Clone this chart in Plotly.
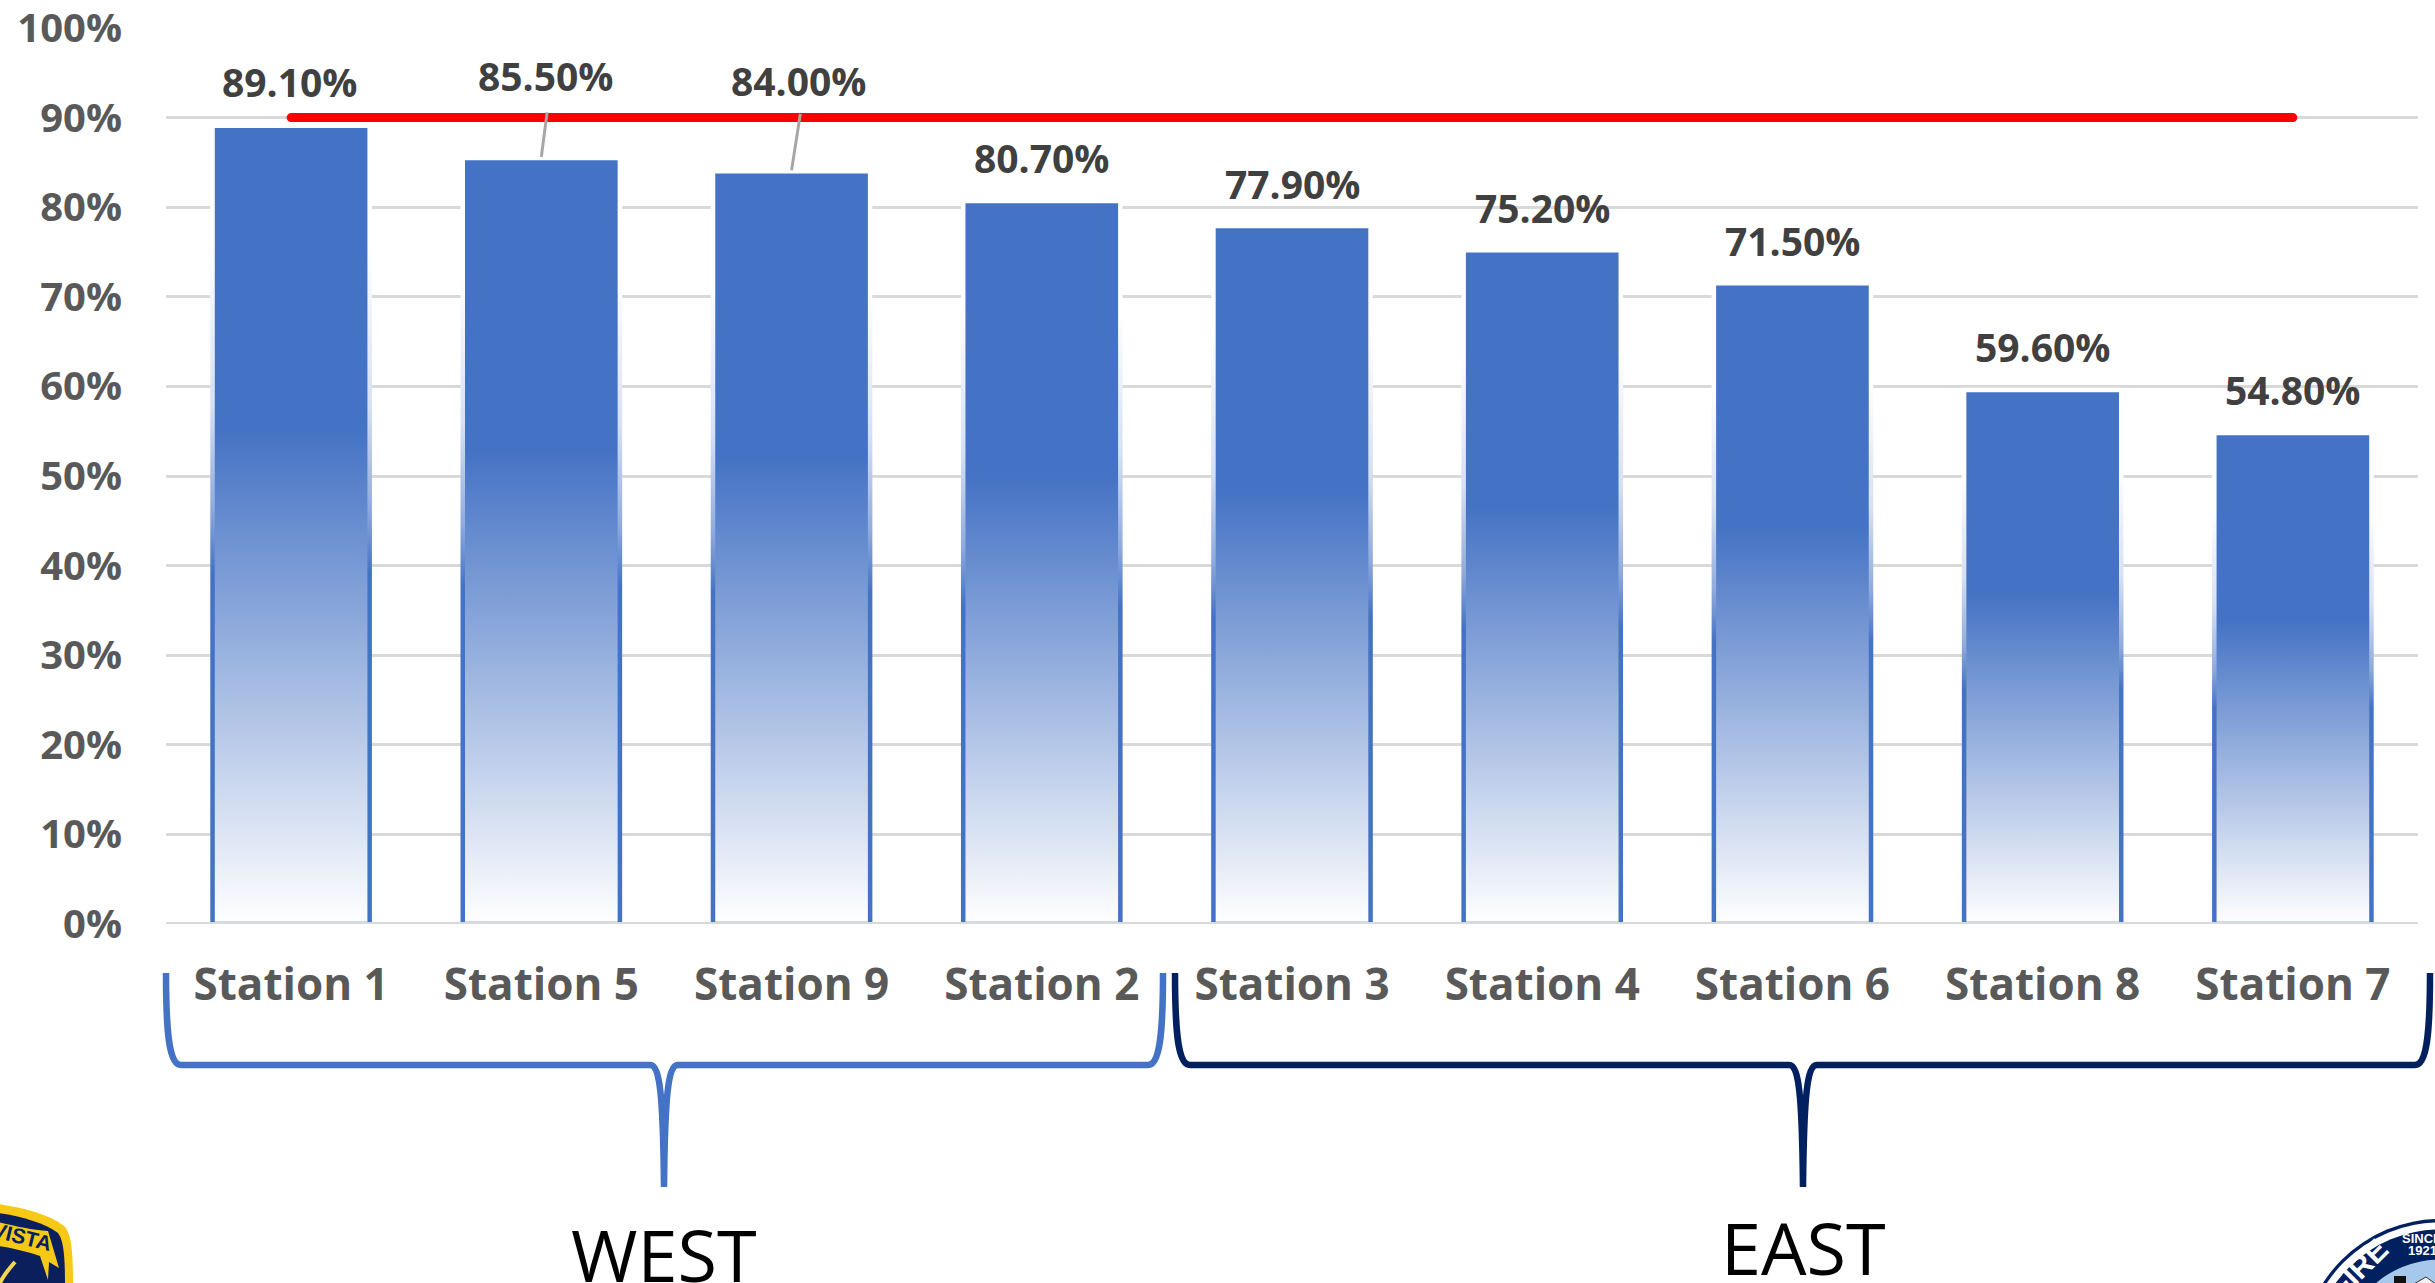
import plotly.graph_objects as go

stations = ["Station 1", "Station 5", "Station 9", "Station 2", "Station 3",
            "Station 4", "Station 6", "Station 8", "Station 7"]
values = [89.1, 85.5, 84.0, 80.7, 77.9, 75.2, 71.5, 59.6, 54.8]
value_labels = ["89.10%", "85.50%", "84.00%", "80.70%", "77.90%",
                "75.20%", "71.50%", "59.60%", "54.80%"]
target = [90] * len(stations)
y_ticks = [0, 10, 20, 30, 40, 50, 60, 70, 80, 90, 100]
y_tick_labels = [f"{v}%" for v in y_ticks]
groups = ["WEST", "EAST"]

W, H = 2435, 1283
L, R, T, B = 166, 17, 28, 359
BLUE = "#4472C4"
NAVY = "#002060"
FONT = "Open Sans"


def px(x):
    return (x - L) / (W - L - R)


def py(y):
    return (H - B - y) / (H - T - B)


def pp(x, y):
    return f"{px(x):.5f},{py(y):.5f}"


def path_shape(d, **kw):
    return dict(type="path", xref="paper", yref="paper", path=d, layer="above", **kw)


def brace(x0, xc, x1, top, mid, tip, colour):
    d = (f"M{pp(x0, top)} C{pp(x0, top + 60)} {pp(x0 + 3, mid)} {pp(x0 + 15, mid)} "
         f"L{pp(xc - 14, mid)} C{pp(xc - 4, mid)} {pp(xc - 1, mid + 30)} {pp(xc, tip)} "
         f"C{pp(xc + 1, mid + 30)} {pp(xc + 4, mid)} {pp(xc + 14, mid)} "
         f"L{pp(x1 - 15, mid)} C{pp(x1 - 3, mid)} {pp(x1, top + 60)} {pp(x1, top)}")
    return path_shape(d, line=dict(color=colour, width=6.5))


def circle(cx, cy, r, colour):
    return dict(type="circle", xref="paper", yref="paper", layer="above",
                x0=px(cx - r), x1=px(cx + r), y0=py(cy + r), y1=py(cy - r),
                fillcolor=colour, line=dict(width=0))


def note(x, y, text, size, colour, family=FONT, angle=0):
    return dict(xref="paper", yref="paper", x=px(x), y=py(y), text=text, showarrow=False,
                xanchor="center", yanchor="middle", textangle=angle,
                font=dict(family=family, size=size, color=colour))


fig = go.Figure()
fig.add_bar(x=stations, y=values, width=0.628,
            marker=dict(color=BLUE, line=dict(color=BLUE, width=4.5)),
            hoverinfo="x+y", showlegend=False)
fig.add_scatter(x=stations, y=target, mode="lines",
                line=dict(color="#FF0000", width=9), hoverinfo="y", showlegend=False)

label_offsets = {
    "Station 1": (-2, 44), "Station 5": (4, 82), "Station 9": (7, 91),
    "Station 2": (0, 43), "Station 3": (0, 43), "Station 4": (0, 43),
    "Station 6": (0, 43), "Station 8": (0, 43), "Station 7": (0, 43),
}
leaders = {"Station 5": (6, -46), "Station 9": (9, -58)}

annotations = []
for s, v, t in zip(stations, values, value_labels):
    dx, dy = label_offsets[s]
    annotations.append(dict(x=s, y=v, text=t, showarrow=False, xshift=dx, yshift=dy,
                            font=dict(family=FONT, size=39, color="#404040", weight=700)))
    if s in leaders:
        ax, ay = leaders[s]
        annotations.append(dict(x=s, y=v, text="", showarrow=True, arrowhead=0, arrowwidth=3,
                                arrowcolor="#A6A6A6", ax=ax, ay=ay, yshift=1))

annotations += [
    note(664, 1254, groups[0], 72, "#000000"),
    note(1803, 1247, groups[1], 72, "#000000"),
    # crest fragments at the bottom corners
    note(22, 1236, "<b>VISTA</b>", 21, NAVY, "Liberation Sans", 14),
    note(2358, 1268, "<b>FIRE</b>", 30, "#FFFFFF", "Liberation Sans", -45),
    note(2422, 1238, "<b>SINCE</b>", 13, "#FFFFFF", "Liberation Sans"),
    note(2422, 1250, "<b>1921</b>", 13, "#FFFFFF", "Liberation Sans"),
]

shapes = [
    dict(type="line", xref="paper", yref="y", x0=0, x1=1, y0=0, y1=0, layer="above",
         line=dict(color="#D9D9D9", width=4)),
    brace(166, 664, 1163, 973, 1065, 1187, BLUE),
    brace(1175, 1803, 2430, 973, 1065, 1187, NAVY),
    # left crest
    path_shape(f"M{pp(-2, 1204)} C{pp(25, 1208)} {pp(50, 1215)} {pp(64, 1226)} "
               f"C{pp(71, 1233)} {pp(73, 1248)} {pp(73, 1285)} L{pp(-2, 1285)} Z",
               fillcolor="#F5C916", line=dict(width=0)),
    path_shape(f"M{pp(-2, 1213)} C{pp(20, 1216)} {pp(45, 1223)} {pp(58, 1233)} "
               f"C{pp(63, 1240)} {pp(65, 1252)} {pp(65, 1285)} L{pp(-2, 1285)} Z",
               fillcolor="#0B1F5C", line=dict(width=0)),
    path_shape(f"M{pp(-2, 1222)} C{pp(15, 1226)} {pp(32, 1230)} {pp(48, 1231)} L{pp(59, 1268)} "
               f"L{pp(49, 1262)} L{pp(48, 1280)} L{pp(40, 1256)} C{pp(28, 1252)} {pp(12, 1248)} {pp(-2, 1246)} Z",
               fillcolor="#F5C916", line=dict(width=0)),
    path_shape(f"M{pp(0, 1283)} C{pp(4, 1274)} {pp(10, 1268)} {pp(15, 1262)}",
               line=dict(color="#F5D94A", width=4)),
    # right seal
    circle(2440, 1358, 139, NAVY),
    circle(2440, 1358, 135.7, "#FFFFFF"),
    circle(2440, 1358, 128.5, NAVY),
    circle(2440, 1358, 98.5, "#A6C8EA"),
    path_shape(f"M{pp(2394, 1285)} L{pp(2394, 1276)} L{pp(2406, 1276)} L{pp(2406, 1285)} Z",
               fillcolor="#111111", line=dict(width=0)),
    path_shape(f"M{pp(2412, 1285)} L{pp(2426, 1277)} L{pp(2437, 1285)} Z",
               fillcolor="#F2F2F2", line=dict(color="#333333", width=1)),
]

fig.update_layout(
    width=W, height=H, autosize=False,
    margin=dict(l=L, r=R, t=T, b=B),
    paper_bgcolor="#FFFFFF", plot_bgcolor="#FFFFFF",
    showlegend=False, annotations=annotations, shapes=shapes,
    xaxis=dict(type="category", categoryorder="array", categoryarray=stations,
               tickfont=dict(family=FONT, size=44, color="#595959", weight=700),
               ticks="", ticklabelstandoff=31, showgrid=False,
               showline=False, zeroline=False, automargin=False),
    yaxis=dict(range=[0, 100], tickvals=y_ticks, ticktext=y_tick_labels,
               tickfont=dict(family=FONT, size=40, color="#595959", weight=700),
               ticks="", ticklabelstandoff=43, ticklabeloverflow="allow",
               showgrid=True, gridcolor="#D9D9D9", gridwidth=3,
               zeroline=False, showline=False, automargin=False),
)

post = """
document.body.style.margin = '0';
var gd = document.getElementById('{plot_id}');
function paint() {
  var svg = gd.querySelector('svg.main-svg');
  if (!svg) return;
  if (!document.getElementById('barFill')) {
    var ns = 'http://www.w3.org/2000/svg';
    var defs = document.createElementNS(ns, 'defs');
    function grad(id, stops) {
      var g = document.createElementNS(ns, 'linearGradient');
      g.setAttribute('id', id);
      g.setAttribute('x1', '0'); g.setAttribute('y1', '0');
      g.setAttribute('x2', '0'); g.setAttribute('y2', '1');
      stops.forEach(function (s) {
        var st = document.createElementNS(ns, 'stop');
        st.setAttribute('offset', s[0]);
        st.setAttribute('stop-color', s[1]);
        g.appendChild(st);
      });
      defs.appendChild(g);
    }
    grad('barFill', [[0, '#4472C4'], [0.38, '#4472C4'], [1, '#FFFFFF']]);
    grad('barEdge', [[0, '#FFFFFF'], [0.15, '#FFFFFF'], [0.35, '#D6E0F3'], [0.48, '#8FAADC'],
                     [0.56, '#4472C4'], [1, '#4472C4']]);
    svg.insertBefore(defs, svg.firstChild);
  }
  gd.querySelectorAll('.barlayer .point path').forEach(function (p) {
    p.style.fill = 'url(#barFill)';
    p.style.stroke = 'url(#barEdge)';
  });
  gd.querySelectorAll('.scatterlayer .js-line').forEach(function (p) {
    p.style.strokeLinecap = 'round';
  });
}
paint();
gd.on('plotly_afterplot', paint);
setTimeout(paint, 100);
"""

fig.write_html("out.html", post_script=post, config=dict(displayModeBar=False, responsive=False))
